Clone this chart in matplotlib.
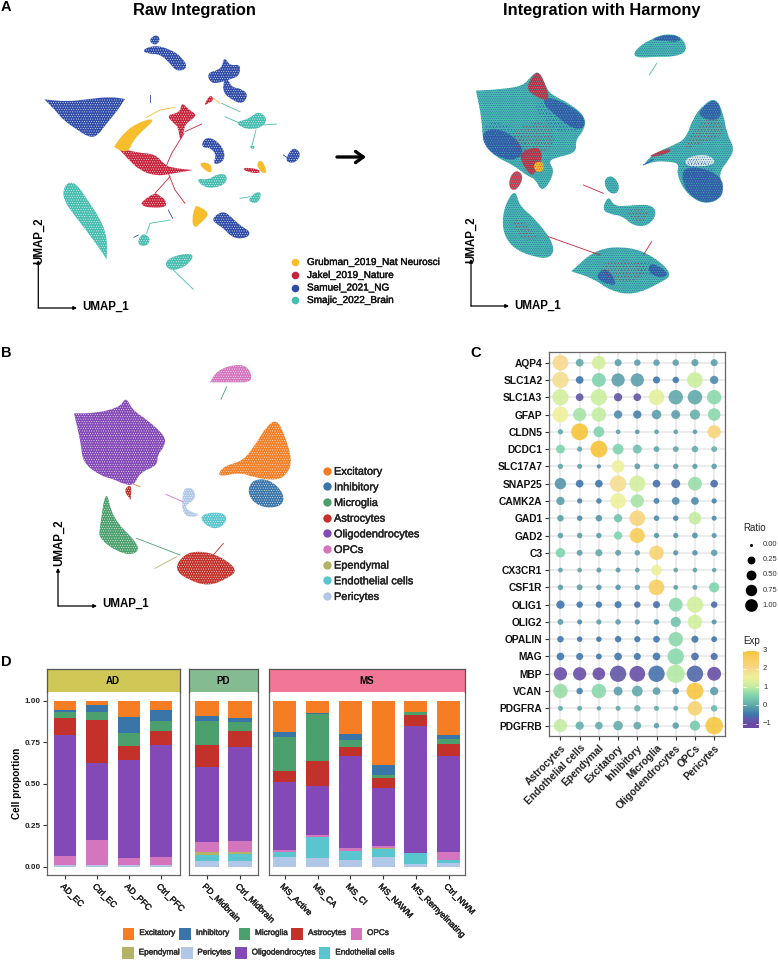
import numpy as np
import matplotlib
matplotlib.use('Agg')
import matplotlib.pyplot as plt
import matplotlib.patheffects as pe
from matplotlib.colors import LinearSegmentedColormap
from matplotlib.patches import PathPatch, Rectangle
from matplotlib.path import Path
from matplotlib.transforms import ScaledTranslation

plt.rcParams['font.family'] = ['Liberation Sans', 'DejaVu Sans']

# ---- panel D: cell proportions ----
samples = ['AD_EC', 'Ctrl_EC', 'AD_PFC', 'Ctrl_PFC', 'PD_Midbrain', 'Ctrl_Midbrain', 'MS_Active', 'MS_CA',
           'MS_CI', 'MS_NAWM', 'MS_Remyelinating', 'Ctrl_NWM']
excitatory = [.054, .024, .098, .056, .092, .102, .188, .076, .202, .385, .070, .208]
inhibitory = [.014, .044, .098, .064, .032, .028, .032, .004, .038, .062, .000, .026]
microglia = [.038, .050, .077, .066, .141, .054, .201, .285, .037, .020, .018, .027]
astrocytes = [.100, .259, .082, .083, .136, .097, .072, .152, .056, .058, .066, .070]
oligodendrocytes = [.730, .463, .591, .675, .449, .565, .407, .293, .557, .351, .764, .579]
opcs = [.054, .148, .044, .046, .062, .068, .010, .014, .018, .014, .002, .048]
ependymal = [0, 0, 0, 0, .018, .008, 0, 0, 0, .006, 0, 0]
endothelial = [.002, 0, .001, .002, .036, .044, .032, .124, .054, .046, .062, .020]
pericytes = [.008, .012, .009, .008, .034, .034, .058, .052, .038, .058, .018, .022]

# ---- panel C: dot plot ----
genes = ['AQP4', 'SLC1A2', 'SLC1A3', 'GFAP', 'CLDN5', 'DCDC1', 'SLC17A7', 'SNAP25', 'CAMK2A', 'GAD1', 'GAD2', 'C3',
         'CX3CR1', 'CSF1R', 'OLIG1', 'OLIG2', 'OPALIN', 'MAG', 'MBP', 'VCAN', 'PDGFRA', 'PDGFRB']
dot_cells = ['Astrocytes', 'Endothelial cells', 'Ependymal', 'Excitatory', 'Inhibitory', 'Microglia',
             'Oligodendrocytes', 'OPCs', 'Pericytes']
ratio = [[.95, .30, .80, .25, .20, .20, .20, .25, .25],
         [1.0, .30, .80, .75, .75, .25, .20, .95, .35],
         [1.0, .30, 1.0, .35, .30, .95, .85, .85, .85],
         [.95, .75, .85, .35, .35, .45, .40, .50, .70],
         [.10, 1.05, .55, .05, .05, .05, .05, .05, .75],
         [.40, .10, 1.05, .55, .40, .15, .15, .20, .15],
         [.10, .08, .02, .70, .15, .12, .12, .10, .12],
         [.60, .30, .30, 1.0, 1.0, .30, .40, .80, .30],
         [.35, .10, .12, .95, .75, .15, .30, .30, .10],
         [.20, .12, .20, .35, .95, .12, .12, .70, .08],
         [.12, .12, .12, .35, .90, .10, .10, .15, .08],
         [.45, .15, .25, .15, .12, .85, .10, .12, .20],
         [.06, .05, .08, .08, .05, .55, .05, .05, .03],
         [.12, .15, .12, .12, .12, .95, .06, .08, .50],
         [.35, .20, .20, .25, .20, .25, .80, 1.0, .20],
         [.15, .08, .10, .12, .10, .12, .50, .85, .08],
         [.20, .12, .12, .20, .18, .22, .85, .25, .15],
         [.30, .25, .15, .30, .25, .30, 1.0, .30, .25],
         [.75, .75, .70, 1.0, .95, 1.0, 1.15, 1.0, .80],
         [.85, .20, .85, .40, .55, .30, .20, 1.05, .35],
         [.08, .08, .03, .08, .20, .08, .08, .85, .20],
         [.75, .35, .30, .45, .30, .12, .20, .50, 1.1]]
expr = [[2.0, 0, 1.2, -.1, -.1, -.1, -.1, -.1, -.1],
        [1.9, -.5, .5, -.1, -.1, -.5, -.5, 1.1, -.3],
        [1.2, -.85, 1.1, -.85, -.85, 1.4, 0, 0, .6],
        [1.5, .8, 1.0, -.3, -.4, -.1, -.1, .1, .6],
        [0, 3.0, .5, -.1, -.2, -.1, -.1, -.1, 2.2],
        [.5, 0, 3.0, .5, .3, 0, 0, .05, .1],
        [0, -.1, -.3, 1.5, -.1, -.1, -.1, -.1, -.1],
        [-.2, -.5, -.5, 1.9, 1.2, -.6, -.6, .7, -.6],
        [-.1, -.4, -.4, 1.5, .8, -.4, -.3, -.3, -.4],
        [-.1, -.3, -.2, .3, 2.2, -.3, -.3, 1.0, -.3],
        [-.1, -.1, -.1, .5, 2.6, -.2, -.2, -.2, -.2],
        [.5, -.1, 0, -.1, -.1, 2.3, -.2, -.2, -.1],
        [-.05, -.05, -.1, -.1, -.05, 1.5, -.05, -.05, -.05],
        [-.1, -.1, -.2, -.2, -.2, 2.5, -.1, -.1, .5],
        [-.5, -.5, -.5, -.5, -.6, -.6, .6, 1.2, -.6],
        [-.1, -.3, -.1, -.1, -.2, -.2, .3, 1.2, -.2],
        [-.5, -.5, -.5, -.5, -.5, -.5, .6, -.5, -.5],
        [-.5, -.5, -.5, -.5, -.5, -.5, .6, -.6, -.6],
        [-.95, -.95, -1.0, -.85, -.95, -.55, .9, -.65, -.95],
        [.7, -.4, .6, -.1, 0, -.1, -.3, 2.9, -.1],
        [0, 0, -.05, 0, .1, 0, 0, 2.3, .2],
        [1.0, .1, .05, .05, 0, -.1, -.1, .4, 2.9]]
ratio_legend = [0, .25, .5, .75, 1.0]
exp_ticks = [3, 2, 1, 0, -1]

# ---- legends ----
dataset_names = ['Grubman_2019_Nat Neurosci', 'Jakel_2019_Nature', 'Samuel_2021_NG', 'Smajic_2022_Brain']
b_legend_names = ['Excitatory', 'Inhibitory', 'Microglia', 'Astrocytes', 'Oligodendrocytes', 'OPCs', 'Ependymal',
                  'Endothelial cells', 'Pericytes']

GOLD, RED, BLUE, TEAL = '#f6be2c', '#c9233c', '#2f4ba8', '#47bdb0'
cols = {'Excitatory': '#f57e25', 'Inhibitory': '#3a75a9', 'Microglia': '#4ba06d', 'Astrocytes': '#c3322a',
        'Oligodendrocytes': '#8349b6', 'OPCs': '#d575be', 'Ependymal': '#b2b364', 'Endothelial cells': '#5bc5cf',
        'Pericytes': '#b1c7e8'}

# ---- UMAP outlines, in 3x pixel units; a doubled vertex keeps a sharp tip ----
raw_blue = [[(133, 298), (133, 298), (200, 305), (260, 298), (330, 290), (375, 297), (375, 297), (350, 335), (320, 370),
             (295, 405), (270, 414), (225, 385), (190, 360), (165, 330)],
            [(425, 150), (465, 135), (510, 148), (545, 170), (565, 205), (530, 215), (510, 190), (480, 162), (445, 162)],
            [(445, 120), (470, 102), (482, 120), (465, 138)],
            [(620, 218), (665, 208), (672, 168), (690, 198), (722, 192), (718, 228), (690, 238), (660, 248), (632, 250)],
            [(672, 238), (685, 238), (695, 262), (725, 266), (745, 285), (728, 312), (700, 302), (668, 278)],
            [(638, 652), (670, 632), (695, 652), (722, 678), (752, 695), (742, 714), (700, 716), (668, 682), (642, 668)],
            [(606, 425), (625, 410), (658, 428), (676, 460), (668, 488), (638, 494), (650, 465), (630, 442), (608, 444)],
            [(858, 472), (880, 440), (904, 460), (888, 488), (862, 488)]]
raw_red = [[(352, 442), (352, 442), (410, 458), (465, 462), (490, 490), (510, 503), (578, 510), (578, 510), (510, 522),
            (470, 528), (420, 512), (385, 478)],
           [(500, 345), (540, 338), (545, 306), (565, 328), (592, 345), (570, 362), (555, 375), (550, 400), (540, 425),
            (535, 380), (518, 368)],
           [(422, 607), (465, 577), (480, 588), (497, 600), (500, 622), (450, 623), (428, 618)],
           [(725, 505), (750, 503), (780, 510), (780, 520), (745, 517)],
           [(632, 282), (642, 300), (625, 310), (610, 317)]]
raw_gold = [[(342, 440), (342, 440), (372, 398), (410, 370), (455, 355), (458, 366), (425, 394), (397, 425), (388, 452),
             (365, 455)],
            [(585, 618), (595, 618), (630, 640), (605, 667), (583, 686), (575, 660)],
            [(595, 488), (632, 488), (637, 520), (615, 512)],
            [(770, 490), (785, 478), (802, 515), (790, 522), (775, 505)]]
raw_teal = [[(188, 570), (205, 545), (232, 553), (262, 600), (297, 650), (322, 710), (320, 778), (320, 778), (298, 745),
             (258, 690), (218, 640), (193, 602)],
            [(492, 790), (520, 767), (582, 758), (572, 787), (540, 807), (510, 812)],
            [(413, 720), (430, 698), (452, 715), (442, 738), (418, 737)],
            [(588, 535), (625, 540), (650, 522), (682, 523), (677, 552), (640, 565), (608, 560)],
            [(746, 595), (775, 572), (785, 585), (772, 610), (750, 607)],
            [(708, 365), (745, 358), (775, 332), (802, 355), (792, 377), (760, 390), (722, 382)],
            [(745, 440), (765, 436), (762, 449)]]
raw_lines = [(GOLD, [(440, 352), (480, 330), (525, 322)]), (RED, [(552, 400), (515, 460), (500, 495)]),
             (RED, [(555, 395), (605, 372)]), (RED, [(505, 520), (525, 570), (555, 610)]),
             (RED, [(465, 580), (510, 530)]), (TEAL, [(520, 810), (580, 868)]),
             (TEAL, [(440, 700), (450, 670), (510, 660)]), (TEAL, [(675, 350), (720, 370)]),
             (TEAL, [(790, 375), (830, 372)]), (TEAL, [(768, 390), (755, 440)]), (GOLD, [(640, 295), (660, 310)]),
             (TEAL, [(665, 310), (720, 335)]), (BLUE, [(505, 630), (518, 655)]), (BLUE, [(450, 285), (450, 305)]),
             (TEAL, [(720, 595), (750, 590)]), (BLUE, [(850, 465), (865, 475)]), (BLUE, [(402, 712), (415, 705)])]

har_teal = [[(228, 272), (228, 272), (300, 268), (370, 258), (395, 226), (418, 212), (440, 265), (455, 285), (512, 312),
             (558, 352), (552, 392), (526, 420), (530, 458), (470, 472), (444, 484), (466, 515), (428, 580), (405, 536),
             (385, 530), (340, 495), (285, 470), (248, 428), (246, 360)],
            [(312, 620), (345, 565), (358, 618), (405, 655), (464, 733), (454, 776), (396, 770), (335, 742), (306, 690)],
            [(514, 814), (514, 814), (590, 745), (690, 740), (762, 770), (818, 822), (787, 846), (700, 886), (630, 872),
             (582, 836)],
            [(610, 540), (635, 524), (660, 555), (650, 584), (622, 576)],
            [(606, 628), (625, 586), (642, 618), (680, 618), (752, 612), (772, 640), (745, 678), (700, 678), (668, 648),
             (628, 642)],
            [(704, 150), (750, 118), (800, 100), (846, 110), (864, 154), (820, 171), (770, 170), (703, 174)],
            [(726, 499), (760, 461), (820, 436), (858, 416), (878, 356), (910, 314), (947, 292), (970, 340), (980, 400),
             (1003, 445), (990, 475), (954, 520), (974, 575), (948, 606), (900, 610), (852, 572), (830, 520), (838, 490),
             (800, 484), (760, 484)]]
har_blue = [[(440, 288), (510, 316), (556, 353), (550, 390), (510, 382), (460, 340), (428, 310)],
            [(248, 392), (300, 386), (350, 416), (374, 460), (340, 482), (288, 470), (250, 432)],
            [(755, 785), (812, 822), (776, 836), (742, 812)],
            [(586, 826), (620, 800), (656, 858), (610, 850)],
            [(903, 325), (947, 292), (969, 345), (940, 364), (896, 349)],
            [(843, 510), (890, 498), (964, 528), (972, 574), (947, 604), (900, 608), (854, 570)],
            [(750, 120), (800, 102), (844, 112), (835, 127), (790, 122)]]
har_red = [[(378, 267), (398, 226), (417, 214), (439, 260), (449, 304), (410, 292)],
           [(362, 455), (420, 437), (428, 480), (402, 527), (385, 520), (362, 482)],
           [(328, 532), (350, 508), (372, 530), (350, 572), (328, 567)],
           [(745, 467), (810, 443), (812, 457), (760, 472)]]
har_gold = [[(398, 490), (428, 482), (433, 510), (410, 520)]]
# loose scatter of red and blue over the mixed clusters
har_red_sparse = [[(870, 400), (930, 345), (972, 370), (965, 410), (900, 432), (850, 452)],
                  [(590, 790), (700, 775), (750, 810), (700, 850), (620, 835)],
                  [(340, 380), (450, 360), (470, 440), (400, 470), (340, 450)],
                  [(330, 650), (380, 670), (420, 720), (360, 720)],
                  [(670, 630), (745, 625), (740, 665), (700, 665)]]
har_blue_sparse = [[(400, 300), (530, 330), (540, 400), (470, 400), (420, 350)],
                   [(250, 360), (350, 380), (400, 460), (330, 490), (260, 440)],
                   [(830, 480), (920, 480), (960, 520), (860, 560)],
                   [(700, 770), (790, 810), (720, 840)]]
har_pale = [[(862, 470), (925, 462), (952, 490), (900, 502), (850, 495)]]
har_lines = [(RED, [(445, 710), (600, 765)]), (RED, [(730, 765), (755, 725)]), (RED, [(550, 555), (610, 580)]),
             (TEAL, [(770, 190), (748, 225)]), (BLUE, [(730, 495), (760, 478)])]

b_excitatory = [[(650, 442), (670, 408), (730, 393), (770, 338), (800, 288), (830, 268), (852, 310), (877, 390),
                 (862, 432), (830, 452), (760, 442), (720, 427)]]
b_inhibitory = [[(742, 480), (760, 448), (810, 448), (852, 490), (848, 527), (800, 535), (758, 517)]]
b_microglia = [[(298, 600), (318, 470), (337, 565), (412, 638), (415, 667), (380, 675), (330, 652), (298, 622)]]
b_astrocytes = [[(522, 720), (550, 673), (600, 662), (660, 678), (715, 720), (680, 747), (625, 768), (570, 752)],
                [(370, 480), (395, 460), (392, 510), (392, 510)]]
b_oligo = [[(222, 250), (222, 250), (285, 250), (360, 232), (378, 200), (397, 240), (440, 268), (498, 320), (492, 352),
            (472, 375), (472, 407), (420, 427), (402, 467), (370, 462), (340, 447), (300, 437), (248, 397), (243, 340)]]
b_opcs = [[(630, 157), (630, 157), (650, 123), (700, 103), (745, 108), (760, 157), (700, 157)]]
b_pericytes = [[(546, 500), (555, 472), (582, 476), (587, 505), (565, 522), (553, 530), (575, 548), (602, 553),
                (575, 563), (548, 552)]]
b_endothelial = [[(598, 565), (620, 548), (672, 548), (682, 570), (660, 595), (628, 594)]]
b_lines = [(cols['Ependymal'], [(465, 715), (530, 680)]), (cols['Microglia'], [(410, 625), (540, 675)]),
           (cols['Astrocytes'], [(640, 675), (670, 640)]), (cols['OPCs'], [(498, 493), (548, 515)]),
           (cols['Microglia'], [(680, 170), (663, 208)]), (cols['Excitatory'], [(400, 462), (420, 470)])]

fig = plt.figure(figsize=(7.78, 9.6), dpi=100)
W, H = 778.0, 960.0


def ax_px(left, top, right, bottom, **kw):
    return fig.add_axes([left / W, 1 - bottom / H, (right - left) / W, (bottom - top) / H], **kw)


canvas = ax_px(0, 0, W, H)
canvas.set_xlim(0, W)
canvas.set_ylim(H, 0)
canvas.axis('off')

medium = [pe.withStroke(linewidth=0.3, foreground='#222222')]


def blob_path(poly, dx, dy):
    # quadratic curve with the traced vertices as control points
    pts = [(dx + p[0] / 3, dy + p[1] / 3) for p in poly]
    mids = [((pts[i][0] + pts[(i + 1) % len(pts)][0]) / 2, (pts[i][1] + pts[(i + 1) % len(pts)][1]) / 2)
            for i in range(len(pts))]
    verts = [mids[-1]]
    codes = [Path.MOVETO]
    for i in range(len(pts)):
        verts += [pts[i], mids[i]]
        codes += [Path.CURVE3, Path.CURVE3]
    return Path(verts, codes)


def draw_blobs(polys, color, dx=0, dy=0, speck=None, pattern='.......', alpha=1.0):
    for poly in polys:
        path = blob_path(poly, dx, dy)
        canvas.add_patch(PathPatch(path, facecolor=color, edgecolor='none', linewidth=0, alpha=alpha))
        if speck:
            canvas.add_patch(PathPatch(path, facecolor='none', edgecolor=speck, hatch=pattern, linewidth=0))


def draw_specks(polys, color, dx=0, pattern='.....'):
    for poly in polys:
        canvas.add_patch(PathPatch(blob_path(poly, dx, 0), facecolor='none', edgecolor=color, hatch=pattern,
                                   linewidth=0))


def draw_lines(lines, dx=0, dy=0, lw=0.6):
    for color, pts in lines:
        canvas.plot([dx + p[0] / 3 for p in pts], [dy + p[1] / 3 for p in pts], color=color, lw=lw)


def umap_axes(x0, y0, x_end, y_top, lab1_x, lab1_y, lab2_x, lab2_y):
    for end in [(x_end, y0), (x0, y_top)]:
        canvas.annotate('', xy=end, xytext=(x0, y0),
                        arrowprops=dict(arrowstyle='-|>,head_length=0.2,head_width=0.1', color='black', lw=0.9,
                                        shrinkA=0, shrinkB=0))
    canvas.text(lab1_x, lab1_y, 'UMAP_1', fontsize=8.3, fontweight='bold', va='center', ha='left')
    canvas.text(lab2_x, lab2_y, 'UMAP_2', fontsize=8.3, fontweight='bold', va='center', ha='center', rotation=90)


# panel A left
plt.rcParams['hatch.linewidth'] = 0.3
draw_blobs(raw_blue, BLUE, speck='white')
draw_blobs(raw_red, RED, speck='white')
draw_blobs(raw_gold, GOLD)
draw_blobs(raw_teal, TEAL, speck='white')
draw_lines(raw_lines)
canvas.text(194.5, 10.5, 'Raw Integration', fontsize=11.8, fontweight='bold', ha='center', va='center')
umap_axes(38.3, 308, 77, 260, 82, 307, 39, 241)
canvas.annotate('', xy=(366, 157), xytext=(337, 157),
                arrowprops=dict(arrowstyle='->,head_length=0.55,head_width=0.4', color='black', lw=2.4, shrinkA=0,
                                shrinkB=0))
for i, name in enumerate(dataset_names):
    yy = [262, 275, 287.5, 300][i]
    canvas.scatter([295], [yy], s=30, color=[GOLD, RED, BLUE, TEAL][i], linewidths=0)
    canvas.text(307, yy, name, fontsize=7.2, va='center', ha='left', color='#111111', path_effects=medium)

# panel A right
draw_blobs(har_teal, TEAL, dx=400, speck=BLUE, pattern='.........')
draw_blobs(har_blue, BLUE, dx=400, speck=TEAL, pattern='.......', alpha=0.8)
draw_blobs(har_pale, '#e6f3f1', dx=400, speck=BLUE, pattern='.......', alpha=0.9)
draw_blobs(har_red, RED, dx=400, speck=TEAL, pattern='........', alpha=0.9)
draw_blobs(har_gold, GOLD, dx=400, speck=RED)
draw_specks(har_blue_sparse, BLUE, dx=400)
draw_specks(har_red_sparse, RED, dx=400)
draw_lines(har_lines, dx=400)
canvas.text(602, 10.5, 'Integration with Harmony', fontsize=11.8, fontweight='bold', ha='center', va='center')
umap_axes(471, 306, 509, 259, 514.7, 306, 471, 240)

# panel B
for polys, name in [(b_excitatory, 'Excitatory'), (b_inhibitory, 'Inhibitory'), (b_microglia, 'Microglia'),
                    (b_astrocytes, 'Astrocytes'), (b_oligo, 'Oligodendrocytes'), (b_opcs, 'OPCs'),
                    (b_pericytes, 'Pericytes'), (b_endothelial, 'Endothelial cells')]:
    draw_blobs(polys, cols[name], dy=330, speck='white')
draw_lines(b_lines, dy=330)
umap_axes(58, 606, 97, 568, 102, 604, 58.7, 543)
for i, name in enumerate(b_legend_names):
    yy = 470.7 + i * 15.65
    canvas.scatter([327], [yy], s=36, color=cols[name], linewidths=0)
    canvas.text(334, yy + 1, name, fontsize=7.9, va='center', ha='left', color='#222222', path_effects=medium)

for lab, x, y in [('A', 1, 7), ('B', 1, 353), ('C', 470, 353), ('D', 1, 662)]:
    canvas.text(x, y, lab, fontsize=10.5, fontweight='bold', ha='left', va='center')

# panel D: stacked bars, 3 facets
series = [('Excitatory', excitatory), ('Inhibitory', inhibitory), ('Microglia', microglia), ('Astrocytes', astrocytes),
          ('Oligodendrocytes', oligodendrocytes), ('OPCs', opcs), ('Ependymal', ependymal),
          ('Endothelial cells', endothelial), ('Pericytes', pericytes)]
facets = [('AD', 0, 4, 46.7, 179.7, '#cfc756', (0.42, 4.58)), ('PD', 4, 6, 189.3, 257.7, '#85bb91', (0.47, 2.53)),
          ('MS', 6, 12, 268.7, 465, '#f27695', (0.51, 6.5))]
label_shift = ScaledTranslation(-8 / 100, 3 / 100, fig.dpi_scale_trans)
for name, i0, i1, left, right, strip_col, xlim in facets:
    ax = ax_px(left, 692.3, right, 875)
    xs = np.arange(1, i1 - i0 + 1)
    tops = np.ones(len(xs))
    for cell, vals in series:
        vals = np.array(vals[i0:i1], dtype=float)
        ax.bar(xs, vals, bottom=tops - vals, width=0.7, color=cols[cell], linewidth=0)
        tops = tops - vals
    ax.set_xlim(*xlim)
    ax.set_ylim(-0.05, 1.05)
    ax.set_xticks(xs)
    ax.set_xticklabels(samples[i0:i1], rotation=-45, ha='left', va='top', rotation_mode='anchor', fontsize=6.2,
                       color='#222222', path_effects=medium)
    for lbl in ax.get_xticklabels():
        lbl.set_transform(lbl.get_transform() + label_shift)
    ax.tick_params(axis='x', length=3, width=0.8, color='#333333', pad=2)
    if i0 == 0:
        ax.set_yticks([0, .25, .5, .75, 1.0])
        ax.set_yticklabels(['0.00', '0.25', '0.50', '0.75', '1.00'], fontsize=5.9, fontweight='bold', color='#222222')
        ax.tick_params(axis='y', length=3, width=0.8, color='#333333', pad=1.5)
        ax.set_ylabel('Cell proportion', fontsize=7.1, fontweight='bold', labelpad=1.5)
    else:
        ax.set_yticks([])
    for s in ax.spines.values():
        s.set_color('#666666')
        s.set_linewidth(0.9)
    ax.spines['top'].set_visible(False)
    strip = ax_px(left, 669.3, right, 692.3)
    strip.set_facecolor(strip_col)
    strip.set_xticks([])
    strip.set_yticks([])
    for s in strip.spines.values():
        s.set_color('#555555')
        s.set_linewidth(0.9)
    strip.spines['bottom'].set_visible(False)
    strip.text(0.5, 0.5, name, transform=strip.transAxes, ha='center', va='center', fontsize=7, fontweight='bold')

# panel D legend, hand placed like the source
key_rows = [(933.5, [('Excitatory', 122.7, 139.3), ('Inhibitory', 179.3, 196), ('Microglia', 238.7, 255),
                     ('Astrocytes', 291, 308), ('OPCs', 350.7, 367)]),
            (953, [('Ependymal', 122.3, 138.7), ('Pericytes', 181.3, 197.3), ('Oligodendrocytes', 235.3, 251.7),
                   ('Endothelial cells', 318.7, 335.3)])]
for yy, row in key_rows:
    for name, kx, tx in row:
        canvas.add_patch(Rectangle((kx, yy - 6), 11.8, 12, facecolor=cols[name], edgecolor='none'))
        canvas.text(tx, yy, name, fontsize=5.9, va='center', ha='left', color='#333333', path_effects=medium)

# panel C: dots
exp_cmap = LinearSegmentedColormap.from_list('exp', [(0, '#6a4ba6'), (0.06, '#5d5da8'), (0.125, '#3f78ad'),
                                                     (0.25, '#62a9ab'), (0.375, '#7dd3ae'), (0.5, '#c2eda2'),
                                                     (0.625, '#eef19a'), (0.75, '#f8d98d'), (1, '#f7c53a')])
dot_ax = ax_px(549.3, 352.3, 725.3, 736)
row = np.arange(len(genes))
col = np.arange(len(dot_cells))
dot_ax.set_axisbelow(True)
dot_ax.grid(True, color='#ebebeb', lw=1.3)
gx, gy = np.meshgrid(col, row)
ratio_arr = np.array(ratio)
dots_px = 4 + 12.3 * ratio_arr
dot_ax.scatter(gx.ravel(), gy.ravel(), s=(dots_px.ravel() * 0.72) ** 2, c=np.array(expr).ravel(), cmap=exp_cmap,
               vmin=-1, vmax=3, linewidths=0, alpha=0.9, zorder=3)
dot_ax.set_xlim(-0.58, 8.58)
dot_ax.set_ylim(21.6, -0.6)
dot_ax.set_xticks(col)
dot_ax.set_xticklabels(dot_cells, rotation=45, ha='right', va='top', rotation_mode='anchor', fontsize=7.3,
                       fontweight='bold', color='#222222')
dot_ax.set_yticks(row)
dot_ax.set_yticklabels(genes, fontsize=7.4, fontweight='bold', color='#111111')
dot_ax.tick_params(length=3, width=0.8, color='#333333', pad=2)
for s in dot_ax.spines.values():
    s.set_color('#666666')
    s.set_linewidth(0.9)

# ratio legend
canvas.text(743, 528, 'Ratio', fontsize=7, va='center', ha='left', color='#222222')
for i, r in enumerate(ratio_legend):
    yy = 544.7 + i * 15.1
    canvas.scatter([751], [yy], s=((3 + 9.7 * np.sqrt(r)) * 0.72) ** 2, color='black', linewidths=0)
    canvas.text(762.7, yy, f'{r:.2f}', fontsize=5.5, va='center', ha='left', color='#333333')

# colour bar
canvas.text(743, 641, 'Exp', fontsize=7, va='center', ha='left', color='#222222')
cb = ax_px(743.3, 650.7, 758.7, 728)
cb_vals = np.linspace(3, -1.24, 200).reshape(-1, 1)
cb.imshow(cb_vals, cmap=exp_cmap, vmin=-1, vmax=3, aspect='auto', extent=(0, 1, -1.24, 3))
cb.set_xticks([])
cb.set_yticks([])
for s in cb.spines.values():
    s.set_visible(False)
for v in exp_ticks:
    cb.plot([0, 0.2], [v, v], color='white', lw=0.5)
    cb.plot([0.8, 1], [v, v], color='white', lw=0.5)
    canvas.text(763, 705.3 - v * 18.25, str(v).replace('-', '\u2212'), fontsize=5.5, va='center', ha='left',
                color='#333333')
cb.set_xlim(0, 1)
cb.set_ylim(-1.24, 3)

fig.savefig('out.png', dpi=100)
